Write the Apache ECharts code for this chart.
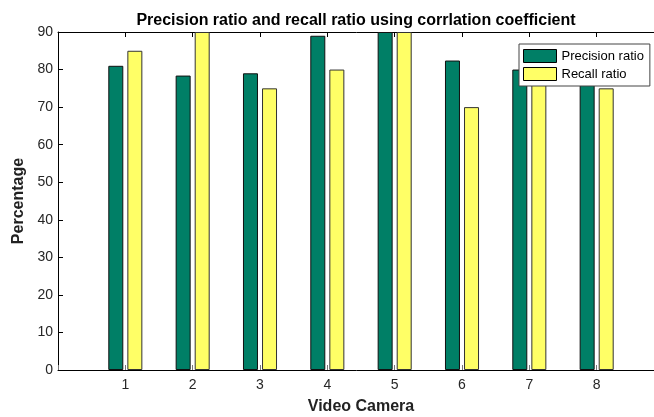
<!DOCTYPE html>
<html>
<head>
<meta charset="utf-8">
<script src="https://cdn.jsdelivr.net/npm/echarts@6/dist/echarts.min.js"></script>
<style>
  html, body { margin: 0; padding: 0; background: #fff; }
  #chart { width: 654px; height: 417px; }
</style>
</head>
<body>
<div id="chart"></div>
<script>
const cameras = [1, 2, 3, 4, 5, 6, 7, 8];
const precisionRatio = [81, 78.4, 79, 89, 90, 82.4, 80, 78];
const recallRatio = [85, 90, 75, 80, 90, 70, 80, 75];

const chart = echarts.init(document.getElementById("chart"));
const font = "Liberation Sans, Arial, sans-serif";

const option = {
  animation: false,
  title: {
    text: "Precision ratio and recall ratio using corrlation coefficient",
    left: 351,
    textAlign: "center",
    top: 8,
    textStyle: { fontFamily: font, fontSize: 16, fontWeight: "bold", color: "#000" },
  },
  legend: {
    orient: "vertical",
    left: 519,
    top: 44,
    padding: [5, 6, 5, 4],
    itemWidth: 33,
    itemHeight: 13,
    itemGap: 4,
    icon: "rect",
    backgroundColor: "#fff",
    borderColor: "#444",
    borderWidth: 1,
    textStyle: { fontFamily: font, fontSize: 13, color: "#000" },
    itemStyle: { borderColor: "#000", borderWidth: 1 },
  },
  grid: { left: 58, right: -10, top: 32, bottom: 47, containLabel: false, outerBoundsMode: "none" },
  xAxis: [
    {
      type: "value",
      min: 0,
      max: 9,
      interval: 1,
      position: "bottom",
      name: "Video Camera",
      nameLocation: "middle",
      nameGap: 29,
      nameTextStyle: { fontFamily: font, fontSize: 16, fontWeight: "bold", color: "#222" },
      axisLine: { lineStyle: { color: "#000", width: 1 } },
      axisTick: { inside: true, length: 5, lineStyle: { color: "#777" } },
      axisLabel: {
        margin: 8,
        fontFamily: font,
        fontSize: 14,
        color: "#262626",
        formatter: (v) => (cameras.indexOf(v) >= 0 ? String(v) : ""),
      },
      splitLine: { show: false },
    },
    {
      type: "value",
      min: 0,
      max: 9,
      interval: 1,
      position: "top",
      axisLine: { lineStyle: { color: "#000", width: 1 } },
      axisTick: { inside: true, length: 5, lineStyle: { color: "#000" } },
      axisLabel: { show: false },
      splitLine: { show: false },
    },
  ],
  yAxis: {
    type: "value",
    min: 0,
    max: 90,
    interval: 10,
    name: "Percentage",
    nameLocation: "middle",
    nameGap: 28,
    nameTextStyle: { fontFamily: font, fontSize: 16, fontWeight: "bold", color: "#222" },
    axisLine: { show: true, lineStyle: { color: "#000", width: 1 } },
    axisTick: { show: true, inside: true, length: 5, lineStyle: { color: "#000" } },
    axisLabel: { margin: 5, fontFamily: font, fontSize: 14, color: "#262626" },
    splitLine: { show: false },
  },
  series: [
    {
      name: "Precision ratio",
      type: "bar",
      xAxisIndex: 0,
      barWidth: 15,
      barGap: "27%",
      data: cameras.map((c, i) => [c, precisionRatio[i]]),
      itemStyle: { color: "#007f66", borderColor: "#111", borderWidth: 1 },
    },
    {
      name: "Recall ratio",
      type: "bar",
      xAxisIndex: 0,
      barWidth: 15,
      barGap: "27%",
      data: cameras.map((c, i) => [c, recallRatio[i]]),
      itemStyle: { color: "#ffff66", borderColor: "#333", borderWidth: 1 },
    },
  ],
};

chart.setOption(option);
</script>
</body>
</html>
